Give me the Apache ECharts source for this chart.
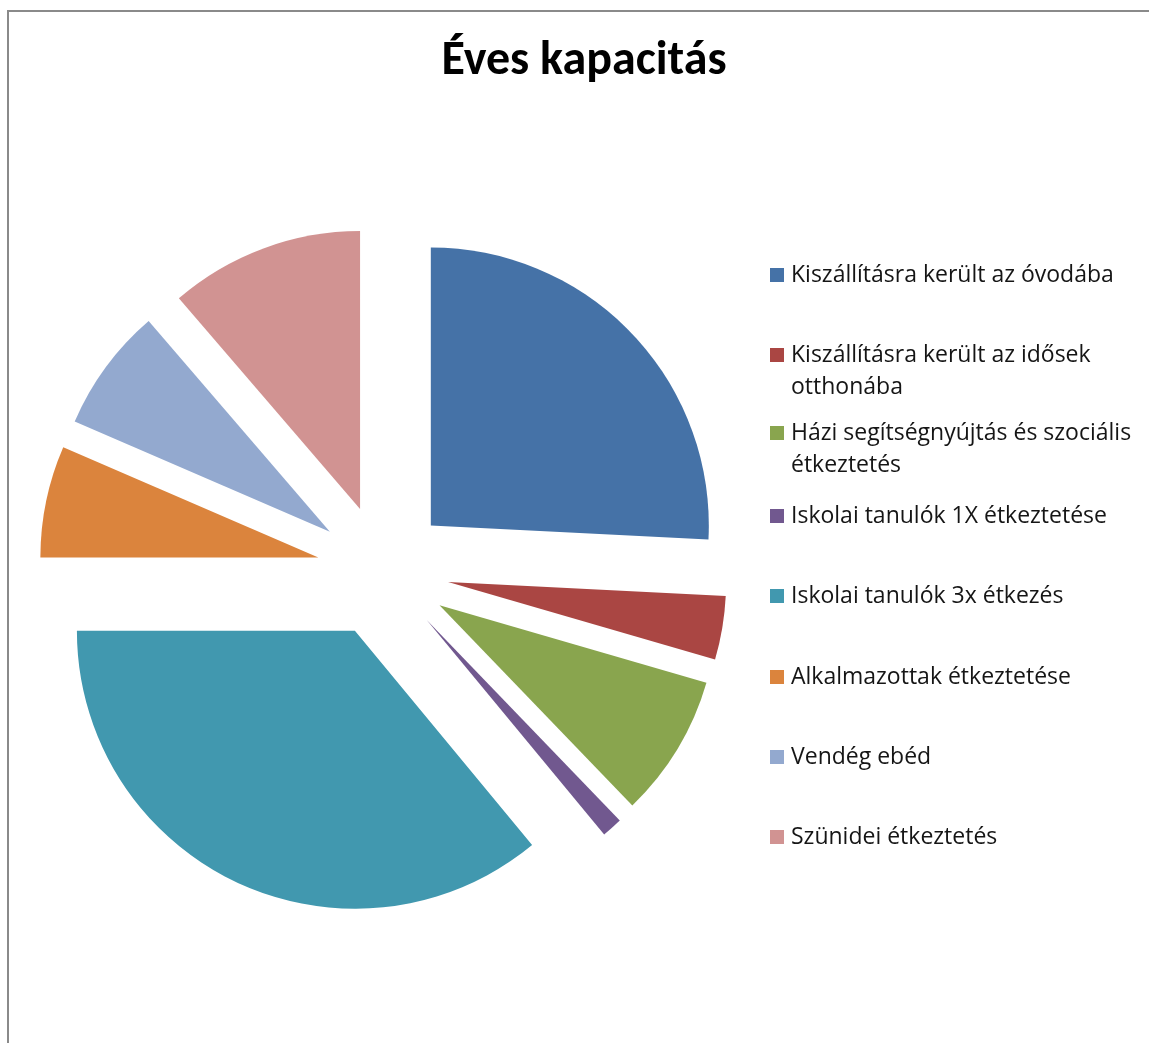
<!DOCTYPE html>
<html>
<head>
<meta charset="utf-8">
<script src="https://cdn.jsdelivr.net/npm/echarts@6/dist/echarts.min.js"></script>
<style>
html,body{margin:0;padding:0;background:#fff;}
#chart{width:1149px;height:1043px;}
</style>
</head>
<body>
<div id="chart"></div>
<script>
const titleText = 'Éves kapacitás';
const categories = [
  'Kiszállításra került az óvodába',
  'Kiszállításra került az idősek otthonába',
  'Házi segítségnyújtás és szociális étkeztetés',
  'Iskolai tanulók 1X étkeztetése',
  'Iskolai tanulók 3x étkezés',
  'Alkalmazottak étkeztetése',
  'Vendég ebéd',
  'Szünidei étkeztetés'
];
const legendLabels = [
  'Kiszállításra került az óvodába',
  'Kiszállításra került az idősek\notthonába',
  'Házi segítségnyújtás és szociális\nétkeztetés',
  'Iskolai tanulók 1X étkeztetése',
  'Iskolai tanulók 3x étkezés',
  'Alkalmazottak étkeztetése',
  'Vendég ebéd',
  'Szünidei étkeztetés'
];
const values = [25.8, 3.7, 8.3, 1.2, 36.0, 6.5, 7.2, 11.3];
const colors = ['#4572A7', '#AA4643', '#89A54E', '#71588F', '#4198AF', '#DB843D', '#93A9CF', '#D19392'];

const chart = echarts.init(document.getElementById('chart'), null, {renderer: 'canvas'});
const TITLE_FONT = 'Carlito, Lato, sans-serif';
const LEGEND_FONT = '"Open Sans", "Noto Sans", sans-serif';
const LH = 32;
const markerCenters = [275, 355, 433, 516, 596, 677, 757, 837];

const legends = categories.map((name, i) => {
  const twoLine = legendLabels[i].indexOf('\n') >= 0;
  return {
    data: [name],
    orient: 'vertical',
    left: 770,
    top: twoLine ? markerCenters[i] - LH * 1.5 : markerCenters[i] - LH / 2,
    padding: 0,
    icon: 'rect',
    itemWidth: 14,
    itemHeight: 14,
    itemGap: 0,
    selectedMode: false,
    // an empty leading line keeps the first text line level with the marker
    formatter: n => {
      const t = legendLabels[categories.indexOf(n)];
      return t.indexOf('\n') >= 0 ? ' \n' + t : t;
    },
    textStyle: {
      fontFamily: LEGEND_FONT,
      fontSize: 23,
      color: '#151515',
      lineHeight: LH,
      padding: [0, 0, 0, 2]
    }
  };
});

chart.setOption({
  animation: false,
  color: colors,
  title: {
    text: titleText,
    left: 579,
    textAlign: 'center',
    top: 33,
    textStyle: {fontFamily: TITLE_FONT, fontSize: 48, fontWeight: 'bold', color: '#000'}
  },
  legend: legends,
  graphic: [{
    type: 'rect',
    shape: {x: 8, y: 11, width: 1400, height: 1400},
    style: {fill: 'none', stroke: '#8a8a8a', lineWidth: 2},
    silent: true
  }],
  series: [{
    type: 'pie',
    center: [383, 571],
    radius: 278,
    startAngle: 90,
    clockwise: true,
    selectedMode: 'multiple',
    selectedOffset: 66,
    label: {show: false},
    labelLine: {show: false},
    emphasis: {disabled: true},
    select: {itemStyle: {borderWidth: 0}},
    itemStyle: {borderWidth: 0},
    data: categories.map((n, i) => ({name: n, value: values[i], selected: true}))
  }]
});
</script>
</body>
</html>
